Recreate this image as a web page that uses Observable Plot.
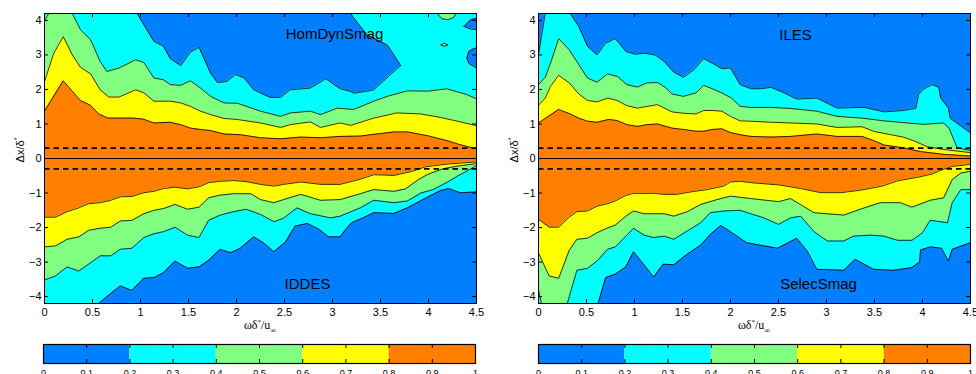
<!DOCTYPE html>
<html>
<head>
<meta charset="utf-8">
<script src="https://cdn.jsdelivr.net/npm/d3@7"></script>
<script src="https://cdn.jsdelivr.net/npm/@observablehq/plot@0.6"></script>
<style>
  html, body { margin: 0; padding: 0; background: #fff; overflow: hidden; }
  #root { position: relative; width: 976px; height: 374px; overflow: hidden; background: #fff; }
  .xlab { position: absolute; font-family: "Liberation Serif", "DejaVu Serif", serif; font-size: 12px; text-align: center; color: #000; line-height: 1; }
  .ylab { position: absolute; font-family: "Liberation Sans", Arial, sans-serif; font-size: 11px; color: #000; white-space: nowrap; transform: translate(-50%, -50%) rotate(-90deg); line-height: 1; }
  sup { font-size: 7px; vertical-align: 5px; }
  sub { font-size: 8px; vertical-align: -4px; }
</style>
</head>
<body>
<div id="root"></div>
<script>
// ---------- shared scale data ----------
const COLORS = ["#0080ff", "#00ffff", "#80ff80", "#ffff00", "#ff8000"]; // 0-0.2 ... 0.8-1
const LEVELS = [0, 0.2, 0.4, 0.6, 0.8, 1];
const X_TICKS = [0, 0.5, 1, 1.5, 2, 2.5, 3, 3.5, 4, 4.5];
const Y_TICKS = [-4, -3, -2, -1, 0, 1, 2, 3, 4];
const CB_TICKS = [0, 0.1, 0.2, 0.3, 0.4, 0.5, 0.6, 0.7, 0.8, 0.9, 1];
const DASHED_Y = [-0.3, 0.3];
const LABELS = ["HomDynSmag", "IDDES", "ILES", "SelecSmag"];

// ---------- HomDynSmag (left, upper half): contour boundaries [x, y] ----------
const hom08 = [[0,1.37],[0.195,2.25],[0.375,1.68],[0.48,1.54],[0.566,1.29],[0.66,1.17],[0.93,1.17],[1.03,1.14],[1.14,1.03],[1.31,1.05],[1.42,0.98],[1.52,0.88],[1.625,0.84],[1.73,0.81],[1.87,0.71],[2.04,0.69],[2.25,0.6],[2.46,0.57],[2.67,0.62],[2.875,0.6],[3.08,0.64],[3.29,0.65],[3.43,0.7],[3.64,0.77],[3.78,0.77],[3.99,0.66],[4.19,0.52],[4.33,0.4],[4.5,0.28]];
const hom06 = [[0,2.23],[0.097,3.05],[0.195,3.53],[0.29,3.0],[0.375,2.64],[0.48,2.45],[0.58,1.99],[0.67,1.78],[0.775,1.78],[0.95,1.99],[1.035,1.9],[1.14,1.66],[1.31,1.66],[1.42,1.61],[1.52,1.51],[1.625,1.37],[1.73,1.27],[1.87,1.16],[2.01,1.13],[2.25,1.03],[2.46,0.9],[2.56,0.98],[2.77,1.06],[2.875,0.9],[3.08,1.03],[3.19,0.96],[3.43,1.17],[3.67,1.32],[3.92,1.29],[4.125,1.19],[4.3,1.08],[4.5,0.95]];
const hom04 = [[0,4.0],[0.045,4.2],[0.1,4.8],[0.24,4.8],[0.29,4.2],[0.375,3.73],[0.48,3.44],[0.58,2.81],[0.65,2.52],[0.775,2.62],[0.95,2.86],[1.035,2.78],[1.14,2.33],[1.24,2.28],[1.31,2.14],[1.42,2.12],[1.52,2.25],[1.625,2.04],[1.73,1.8],[1.87,1.61],[2.01,1.6],[2.25,1.37],[2.46,1.22],[2.56,1.32],[2.77,1.37],[2.875,1.27],[3.05,1.46],[3.22,1.42],[3.43,1.66],[3.57,1.8],[3.78,1.96],[3.99,1.95],[4.19,2.02],[4.4,1.85],[4.5,1.73]];
// blue region as [x, lower edge, upper edge]
const homBlue = [[0.965,4.2,4.2],[1.035,3.87,4.2],[1.14,3.39,4.2],[1.24,3.25,4.2],[1.31,2.89,4.2],[1.42,2.69,4.2],[1.52,3.08,4.2],[1.61,3.22,4.2],[1.73,2.47,4.2],[1.8,2.2,4.2],[1.9,2.23,4.2],[1.99,2.43,4.2],[2.08,2.33,4.2],[2.18,1.99,4.2],[2.35,1.77,4.2],[2.46,1.77,4.2],[2.56,1.99,4.2],[2.77,2.04,4.2],[2.93,2.31,4.2],[3.08,2.02,4.2],[3.19,1.94,4.2],[3.22,1.89,4.08],[3.36,1.95,3.58],[3.43,1.99,3.48],[3.57,2.34,3.29],[3.64,2.52,3.0],[3.71,2.69,2.69]];
const homIslandBlueA = [[4.37,3.82,3.82],[4.44,3.75,4.02],[4.5,3.73,4.06]];
const homIslandBlueB = [[4.4,2.91,2.91],[4.42,2.75,3.1],[4.47,2.67,3.18],[4.5,2.61,3.2]];
const homIslandGreenA = [[4.09,4.2,4.2],[4.14,4.05,4.2],[4.2,4.02,4.2],[4.26,4.08,4.2],[4.29,4.2,4.2]];
const homIslandGreenB = [[4.13,3.29,3.29],[4.165,3.25,3.34],[4.2,3.29,3.29]];

// ---------- IDDES (left, lower half) ----------
const idd08 = [[0,-1.70],[0.115,-1.70],[0.236,-1.54],[0.357,-1.43],[0.46,-1.31],[0.58,-1.28],[0.69,-1.21],[0.79,-1.11],[0.91,-1.10],[1.035,-0.99],[1.14,-0.95],[1.24,-0.87],[1.36,-0.83],[1.49,-0.88],[1.61,-0.82],[1.71,-0.70],[1.83,-0.66],[1.97,-0.64],[2.1,-0.67],[2.25,-0.75],[2.39,-0.80],[2.49,-0.75],[2.67,-0.68],[2.875,-0.75],[3.08,-0.75],[3.29,-0.6],[3.43,-0.47],[3.64,-0.49],[3.82,-0.38],[3.97,-0.24],[4.2,-0.16],[4.5,-0.1]];
const idd06 = [[0,-2.56],[0.115,-2.53],[0.236,-2.34],[0.357,-2.27],[0.46,-2.08],[0.58,-2.02],[0.69,-1.99],[0.79,-1.81],[0.91,-1.79],[1.035,-1.60],[1.14,-1.50],[1.24,-1.45],[1.36,-1.33],[1.49,-1.47],[1.61,-1.41],[1.71,-1.14],[1.83,-1.06],[1.97,-1.02],[2.15,-1.02],[2.25,-1.19],[2.39,-1.28],[2.49,-1.19],[2.67,-1.04],[2.875,-1.21],[3.08,-1.19],[3.29,-1.02],[3.43,-0.9],[3.64,-0.95],[3.76,-0.88],[3.9,-0.6],[4.0,-0.45],[4.15,-0.3],[4.3,-0.22],[4.5,-0.15]];
const idd04 = [[0,-3.52],[0.115,-3.40],[0.236,-3.14],[0.357,-3.26],[0.46,-3.06],[0.58,-2.82],[0.69,-2.82],[0.79,-2.63],[0.91,-2.60],[1.035,-2.29],[1.14,-2.18],[1.24,-2.12],[1.36,-1.99],[1.49,-2.22],[1.61,-2.29],[1.71,-1.79],[1.83,-1.64],[1.97,-1.54],[2.1,-1.47],[2.25,-1.62],[2.39,-1.83],[2.49,-1.73],[2.63,-1.43],[2.77,-1.60],[2.98,-1.72],[3.08,-1.67],[3.29,-1.43],[3.43,-1.21],[3.64,-1.28],[3.78,-1.23],[3.92,-1.0],[4.05,-0.9],[4.2,-0.68],[4.32,-0.48],[4.44,-0.3],[4.5,-0.2]];
const idd02 = [[0.566,-4.2],[0.69,-3.91],[0.79,-3.69],[0.91,-3.82],[1.035,-3.47],[1.14,-3.45],[1.24,-3.31],[1.36,-2.97],[1.49,-3.18],[1.61,-3.14],[1.71,-2.95],[1.83,-2.63],[1.94,-2.73],[2.04,-2.60],[2.18,-2.27],[2.28,-2.44],[2.39,-2.70],[2.51,-2.42],[2.61,-1.96],[2.74,-1.88],[2.86,-2.05],[2.96,-2.27],[3.08,-2.27],[3.14,-2.05],[3.2,-1.86],[3.31,-1.73],[3.43,-1.57],[3.64,-1.59],[3.78,-1.43],[3.99,-1.12],[4.125,-0.93],[4.21,-0.87],[4.33,-0.99],[4.5,-0.97]];

// ---------- ILES (right, upper half) ----------
const iles08 = [[0,1.03],[0.21,1.42],[0.33,1.29],[0.42,1.17],[0.51,1.08],[0.61,1.05],[0.73,1.13],[0.82,1.10],[0.92,0.98],[1.03,0.93],[1.13,0.98],[1.24,1.0],[1.39,0.88],[1.51,0.84],[1.64,0.79],[1.72,0.79],[1.81,0.84],[1.91,0.86],[2.0,0.75],[2.1,0.69],[2.21,0.64],[2.42,0.62],[2.625,0.64],[2.9,0.71],[3.11,0.64],[3.37,0.64],[3.49,0.52],[3.6,0.39],[3.8,0.31],[3.98,0.2],[4.22,0.12],[4.5,0.07]];
const iles06 = [[0,1.54],[0.07,1.75],[0.125,2.09],[0.21,2.41],[0.32,2.19],[0.42,1.87],[0.51,1.68],[0.61,1.64],[0.72,1.75],[0.82,1.68],[0.92,1.53],[1.03,1.46],[1.13,1.51],[1.24,1.56],[1.39,1.35],[1.51,1.31],[1.64,1.29],[1.72,1.39],[1.81,1.39],[1.91,1.37],[2.0,1.22],[2.1,1.09],[2.21,1.08],[2.42,1.05],[2.625,1.03],[2.9,1.0],[3.11,0.9],[3.37,0.92],[3.5,0.78],[3.67,0.69],[3.8,0.62],[3.92,0.5],[4.05,0.34],[4.25,0.25],[4.5,0.17]];
const iles04 = [[0,2.14],[0.07,2.35],[0.125,2.76],[0.21,3.47],[0.32,3.15],[0.42,2.72],[0.51,2.33],[0.61,2.21],[0.72,2.45],[0.82,2.38],[0.92,2.14],[1.03,2.07],[1.13,2.19],[1.24,2.2],[1.32,2.06],[1.39,1.87],[1.51,1.80],[1.64,1.90],[1.72,2.12],[1.81,2.02],[1.91,1.90],[2.01,1.75],[2.1,1.51],[2.21,1.48],[2.42,1.48],[2.625,1.45],[2.9,1.37],[3.11,1.22],[3.37,1.17],[3.6,1.09],[3.8,1.04],[4.01,0.99],[4.22,1.03],[4.28,0.86],[4.36,0.31],[4.5,0.23]];
const iles02 = [[0,3.0],[0.07,4.2],[0.12,4.8],[0.28,4.8],[0.33,4.2],[0.42,3.82],[0.51,3.25],[0.61,3.0],[0.7,3.34],[0.8,3.47],[0.91,3.10],[1.01,3.02],[1.11,3.05],[1.22,2.99],[1.31,2.81],[1.41,2.50],[1.51,2.35],[1.62,2.57],[1.72,2.89],[1.81,2.76],[1.91,2.60],[2.0,2.62],[2.1,2.14],[2.21,2.02],[2.31,2.02],[2.42,2.06],[2.52,1.95],[2.69,1.72],[2.9,1.75],[3.11,1.46],[3.39,1.48],[3.6,1.35],[3.8,1.39],[3.93,1.45],[3.96,1.85],[4.0,1.99],[4.1,2.14],[4.17,2.06],[4.19,1.75],[4.27,1.46],[4.29,1.16],[4.5,0.74]];

// ---------- SelecSmag (right, lower half) ----------
const sel08 = [[0,-1.76],[0.11,-1.99],[0.21,-1.99],[0.32,-1.70],[0.4,-1.54],[0.51,-1.52],[0.61,-1.38],[0.72,-1.31],[0.8,-1.23],[0.91,-1.07],[0.99,-1.01],[1.2,-1.01],[1.31,-1.04],[1.44,-1.04],[1.58,-0.97],[1.76,-0.90],[1.93,-0.80],[2.0,-0.68],[2.1,-0.66],[2.21,-0.70],[2.52,-0.77],[2.73,-0.87],[2.94,-0.99],[3.15,-0.99],[3.35,-0.92],[3.58,-0.8],[3.75,-0.64],[3.94,-0.55],[4.1,-0.45],[4.2,-0.33],[4.31,-0.23],[4.5,-0.17]];
const sel06 = [[0,-2.73],[0.11,-3.40],[0.21,-3.47],[0.32,-2.66],[0.4,-2.34],[0.51,-2.31],[0.61,-2.15],[0.72,-2.01],[0.8,-1.93],[0.91,-1.67],[0.99,-1.52],[1.1,-1.60],[1.31,-1.60],[1.41,-1.67],[1.55,-1.54],[1.69,-1.33],[1.86,-1.19],[2.0,-1.09],[2.21,-1.16],[2.5,-1.25],[2.625,-1.16],[2.87,-1.57],[3.18,-1.64],[3.35,-1.47],[3.56,-1.28],[3.77,-1.28],[3.89,-1.41],[4.08,-1.21],[4.22,-1.14],[4.31,-0.61],[4.4,-0.42],[4.5,-0.37]];
const sel04 = [[0,-3.8],[0.03,-4.2],[0.08,-4.8],[0.25,-4.8],[0.3,-4.2],[0.4,-3.24],[0.51,-3.18],[0.61,-2.97],[0.72,-2.63],[0.8,-2.56],[0.91,-2.25],[0.99,-2.02],[1.1,-2.22],[1.2,-2.29],[1.31,-2.25],[1.41,-2.34],[1.55,-2.10],[1.69,-1.86],[1.79,-1.57],[1.93,-1.52],[2.1,-1.5],[2.21,-1.60],[2.35,-1.72],[2.5,-1.91],[2.625,-1.72],[2.73,-1.67],[2.87,-2.12],[3.01,-2.39],[3.18,-2.39],[3.28,-2.25],[3.46,-2.22],[3.6,-2.25],[3.74,-2.37],[3.89,-2.37],[4.0,-2.15],[4.08,-1.79],[4.26,-1.86],[4.31,-1.28],[4.4,-0.9],[4.5,-0.9]];
const sel02 = [[0.62,-4.2],[0.7,-3.45],[0.8,-3.35],[0.91,-3.14],[0.99,-2.70],[1.1,-3.08],[1.2,-3.43],[1.3,-3.06],[1.41,-3.08],[1.55,-2.77],[1.69,-2.51],[1.79,-2.20],[1.9,-1.94],[2.0,-2.12],[2.17,-2.44],[2.49,-2.60],[2.69,-2.31],[2.8,-2.68],[2.9,-3.21],[3.18,-3.24],[3.3,-2.92],[3.49,-3.21],[3.7,-3.24],[3.89,-3.16],[3.97,-3.0],[3.98,-2.65],[4.08,-2.56],[4.2,-2.60],[4.27,-2.97],[4.31,-2.63],[4.5,-2.44]];

// ---------- drawing ----------
const FILL_BY_BOUND = [COLORS[3], COLORS[2], COLORS[1], COLORS[0]]; // beyond 0.8, 0.6, 0.4, 0.2
const FONT = "'Liberation Sans', Arial, Helvetica, sans-serif";
const fmtY = d => d < 0 ? "\u2212" + (-d) : String(d);

function halfMarks(bounds, sign) {
  const fills = [], lines = [];
  bounds.forEach((b, i) => {
    if (!b) return;
    fills.push(Plot.areaY(b, {x: d => d[0], y1: d => d[1], y2: 5 * sign, fill: FILL_BY_BOUND[i], clip: true}));
    lines.push(Plot.line(b, {x: d => d[0], y: d => d[1], stroke: "#000", strokeWidth: 0.8, clip: true}));
  });
  return {fills, lines};
}
function bandMarks(bands) {
  const fills = [], lines = [];
  bands.forEach(({data, fill}) => {
    fills.push(Plot.areaY(data, {x: d => d[0], y1: d => d[1], y2: d => d[2], fill, clip: true}));
    lines.push(Plot.line(data, {x: d => d[0], y: d => d[1], stroke: "#000", strokeWidth: 0.8, clip: true}));
    lines.push(Plot.line(data, {x: d => d[0], y: d => d[2], stroke: "#000", strokeWidth: 0.8, clip: true}));
  });
  return {fills, lines};
}

function panel({up, down, bands, topLabel, topDx, topDy, botLabel, botDx, botDy, width, marginRight}) {
  const U = halfMarks(up, 1), D = halfMarks(down, -1), B = bandMarks(bands);
  return Plot.plot({
    width, height: 320,
    marginLeft: 44, marginRight, marginTop: 13, marginBottom: 17,
    style: {fontFamily: FONT, fontSize: "11px", background: "transparent", overflow: "visible", color: "#000"},
    x: {domain: [0, 4.5], ticks: X_TICKS, tickSize: 0, tickPadding: 5, tickFormat: d => String(d), label: null},
    y: {domain: [-4.2, 4.2], ticks: Y_TICKS, tickSize: 0, tickPadding: 3, tickFormat: fmtY, label: null},
    marks: [
      Plot.frame({fill: COLORS[4]}),
      ...U.fills, ...D.fills, ...B.fills,
      ...U.lines, ...D.lines, ...B.lines,
      Plot.ruleY(DASHED_Y, {stroke: "#000", strokeWidth: 1.6, strokeDasharray: "5.5,4"}),
      Plot.ruleY([0], {stroke: "#000", strokeWidth: 1.2}),
      Plot.text([topLabel], {frameAnchor: "top-left", textAnchor: "middle", dx: topDx, dy: topDy, fontSize: 15, fill: "#000"}),
      Plot.text([botLabel], {frameAnchor: "bottom-left", textAnchor: "middle", dx: botDx, dy: botDy, fontSize: 15, fill: "#000"}),
      Plot.ruleX(X_TICKS, {stroke: "#000", insetBottom: 286}),
      Plot.ruleX(X_TICKS, {stroke: "#000", insetTop: 286}),
      Plot.ruleY(Y_TICKS, {stroke: "#000", insetRight: 428}),
      Plot.ruleY(Y_TICKS, {stroke: "#000", insetLeft: 428}),
      Plot.frame({stroke: "#000", strokeWidth: 1})
    ]
  });
}

function colorbar(width, marginLeft, marginRight) {
  const bins = COLORS.map((c, i) => ({lo: LEVELS[i], hi: LEVELS[i + 1], c}));
  return Plot.plot({
    width, height: 40, marginLeft, marginRight, marginTop: 4, marginBottom: 17,
    style: {fontFamily: FONT, fontSize: "9px", background: "transparent", overflow: "visible", color: "#000"},
    x: {domain: [0, 1], ticks: CB_TICKS, tickSize: 0, tickPadding: 6, tickFormat: d => String(d), label: null},
    y: {domain: [0, 1], axis: null},
    color: {type: "identity"},
    marks: [
      Plot.rect(bins, {x1: "lo", x2: "hi", y1: 0, y2: 1, fill: "c"}),
      Plot.ruleX(CB_TICKS, {stroke: "#000", insetBottom: 15}),
      Plot.ruleX(CB_TICKS, {stroke: "#000", insetTop: 15}),
      Plot.frame({stroke: "#000", strokeWidth: 1.2})
    ]
  });
}

const root = document.getElementById("root");
function place(el, left, top) {
  el.style.position = "absolute";
  el.style.left = left + "px";
  el.style.top = top + "px";
  root.appendChild(el);
}

const left = panel({
  up: [hom08, hom06, hom04, null], down: [idd08, idd06, idd04, idd02],
  bands: [
    {data: homBlue, fill: COLORS[0]},
    {data: homIslandBlueA, fill: COLORS[0]},
    {data: homIslandBlueB, fill: COLORS[0]},
    {data: homIslandGreenA, fill: COLORS[2]},
    {data: homIslandGreenB, fill: COLORS[2]}
  ],
  topLabel: LABELS[0], topDx: 290, topDy: 15,
  botLabel: LABELS[1], botDx: 263, botDy: -15,
  width: 490, marginRight: 14
});
place(left, 0, 0);

const right = panel({
  up: [iles08, iles06, iles04, iles02], down: [sel08, sel06, sel04, sel02],
  bands: [],
  topLabel: LABELS[2], topDx: 257, topDy: 16,
  botLabel: LABELS[3], botDx: 280, botDy: -15,
  width: 482, marginRight: 6
});
place(right, 494, 0);

place(colorbar(490, 43, 15), 0, 340);
place(colorbar(482, 44, 6), 494, 340);

// axis titles (HTML text with super/subscripts)
function xLabel(center) {
  const d = document.createElement("div");
  d.className = "xlab";
  d.style.left = (center - 60) + "px";
  d.style.width = "120px";
  d.style.top = "319px";
  d.innerHTML = "\u03c9\u03b4<sup>*</sup>/u<sub>\u221e</sub>";
  root.appendChild(d);
}
function yLabel(cx, cy) {
  const d = document.createElement("div");
  d.className = "ylab";
  d.style.left = cx + "px";
  d.style.top = cy + "px";
  d.innerHTML = "\u0394x/\u03b4<sup>*</sup>";
  root.appendChild(d);
}
xLabel(260); xLabel(754);
yLabel(19, 150); yLabel(513, 150);
</script>
</body>
</html>
